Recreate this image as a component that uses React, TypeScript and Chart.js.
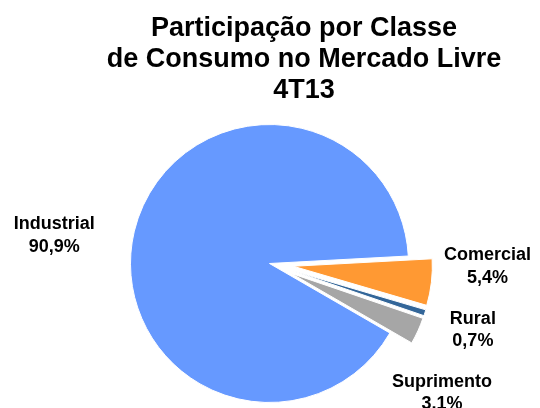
import React, { useEffect, useRef } from "react";
import { Chart, registerables } from "chart.js";

Chart.register(...registerables);

// ---- data ----
const TITLE_LINES = ["Participação por Classe", "de Consumo no Mercado Livre", "4T13"];
const categories = ["Industrial", "Comercial", "Rural", "Suprimento"];
const shares = [90.9, 5.4, 0.7, 3.1];
const shareLabels = ["90,9%", "5,4%", "0,7%", "3,1%"];
const exploded = [false, true, true, true];
const colors = ["#6699FF", "#FF9933", "#336699", "#A6A6A6"];

// ---- styling / layout ----
const EXPLODE_DIST = 24;
const LABEL_OFFSETS: [number, number][] = [
  [-80, -2],
  [56, -22],
  [48, 11],
  [24, 56],
];
const LABEL_LINE_H = 22.5;
const TITLE_X = 304;
const TITLE_BASELINE = 36;
const TITLE_LINE_H = 31;
const FONT = '"Liberation Sans", Arial, Helvetica, sans-serif';

const explodePlugin = {
  id: "explodeSlices",
  afterDatasetUpdate(chart: any, args: any) {
    const meta = args.meta || chart.getDatasetMeta(args.index);
    meta.data.forEach((arc: any, i: number) => {
      if (!exploded[i]) return;
      const mid = (arc.startAngle + arc.endAngle) / 2;
      arc.x += Math.cos(mid) * EXPLODE_DIST;
      arc.y += Math.sin(mid) * EXPLODE_DIST;
    });
  },
};

const textPlugin = {
  id: "textLabels",
  afterDraw(chart: any) {
    const ctx = chart.ctx as CanvasRenderingContext2D;
    const meta = chart.getDatasetMeta(0);
    ctx.save();
    ctx.fillStyle = "#000000";
    ctx.textAlign = "center";
    ctx.textBaseline = "alphabetic";
    ctx.font = `bold 27px ${FONT}`;
    TITLE_LINES.forEach((t, i) => ctx.fillText(t, TITLE_X, TITLE_BASELINE + i * TITLE_LINE_H));
    ctx.font = `bold 18px ${FONT}`;
    meta.data.forEach((arc: any, i: number) => {
      const mid = (arc.startAngle + arc.endAngle) / 2;
      const r = arc.outerRadius;
      const ax = arc.x + Math.cos(mid) * r + LABEL_OFFSETS[i][0];
      const ay = arc.y + Math.sin(mid) * r + LABEL_OFFSETS[i][1];
      ctx.fillText(categories[i], ax, ay);
      ctx.fillText(shareLabels[i], ax, ay + LABEL_LINE_H);
    });
    ctx.restore();
  },
};

export default function App() {
  const canvasRef = useRef<HTMLCanvasElement | null>(null);

  useEffect(() => {
    document.body.style.margin = "0";
    const canvas = canvasRef.current;
    if (!canvas) return;
    const chart = new Chart(canvas, {
      type: "pie",
      data: {
        labels: categories,
        datasets: [
          {
            data: shares,
            backgroundColor: colors,
            borderColor: "#FFFFFF",
            borderWidth: 1,
            hoverOffset: 0,
            hoverBorderWidth: 0,
          },
        ],
      },
      options: {
        responsive: false,
        animation: false,
        events: [],
        rotation: 120,
        layout: { padding: { left: 130, right: 131, top: 124, bottom: 5 } },
        plugins: {
          legend: { display: false },
          title: { display: false },
          tooltip: { enabled: false },
        },
      },
      plugins: [explodePlugin, textPlugin],
    });
    return () => chart.destroy();
  }, []);

  return (
    <div style={{ position: "fixed", left: 0, top: 0, width: 540, height: 408, background: "#FFFFFF" }}>
      <canvas ref={canvasRef} width={540} height={408} style={{ display: "block" }} />
    </div>
  );
}
